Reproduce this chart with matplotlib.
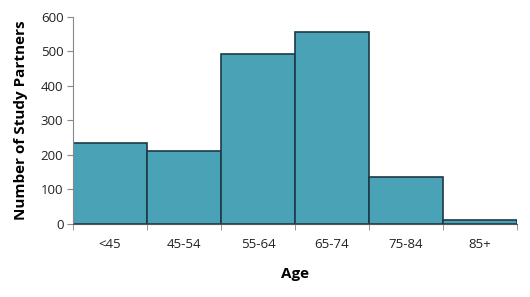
import matplotlib
matplotlib.use("Agg")
import matplotlib.pyplot as plt
import numpy as np

categories = ["<45", "45-54", "55-64", "65-74", "75-84", "85+"]
values = [235, 212, 493, 556, 136, 12]
yticks = [0, 100, 200, 300, 400, 500, 600]

plt.rcParams['font.family'] = ['Open Sans', 'DejaVu Sans']

fig = plt.figure(figsize=(5.30, 2.97), dpi=100)
ax = fig.add_axes([0.138, 0.246, 0.837, 0.697])
x = np.arange(len(categories))
ax.bar(x, values, width=1.0, color="#4aa2b7", edgecolor="#1d3a44", linewidth=1.2)
ax.set_xlim(-0.5, len(categories) - 0.5)
ax.set_ylim(0, 600)
ax.set_yticks(yticks)
ax.set_yticklabels([str(v) for v in yticks], fontsize=9.5, color="#222222")
ax.set_xticks(x)
ax.set_xticklabels(categories, fontsize=9.5, color="#222222")
ax.tick_params(axis='x', length=0, pad=10)
ax.set_xticks(np.arange(len(categories) + 1) - 0.5, minor=True)
ax.tick_params(axis='x', which='minor', length=4, color="#888888")
ax.tick_params(axis='y', length=4, color="#888888", pad=3)
for s in ["top", "right"]:
    ax.spines[s].set_visible(False)
ax.spines["left"].set_color("#888888")
ax.spines["bottom"].set_color("#555555")
ax.set_ylabel("Number of Study Partners", fontsize=11, fontweight="bold", labelpad=9)
ax.set_xlabel("Age", fontsize=11, fontweight="bold", labelpad=12)
fig.savefig("out.png", dpi=100)
